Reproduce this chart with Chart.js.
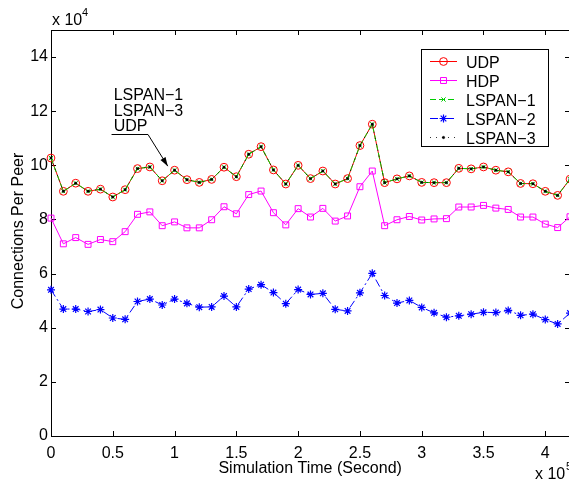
<!DOCTYPE html>
<html><head><meta charset="utf-8">
<script src="https://cdn.jsdelivr.net/npm/chart.js@4/dist/chart.umd.min.js"></script>
<style>
html,body{margin:0;padding:0;background:#fff;overflow:hidden;}
#wrap{width:569px;height:482px;overflow:hidden;position:relative;background:#fff;}
canvas{display:block;}
</style></head><body>
<div id="wrap"><canvas id="c" width="592" height="482" style="width:592px;height:482px"></canvas></div>
<script>
// x in units of 10^5 s, y in units of 10^4 connections
const timeX = [0,0.1,0.2,0.3,0.4,0.5,0.6,0.7,0.8,0.9,1.0,1.1,1.2,1.3,1.4,1.5,1.6,1.7,1.8,1.9,2.0,2.1,2.2,2.3,2.4,2.5,2.6,2.7,2.8,2.9,3.0,3.1,3.2,3.3,3.4,3.5,3.6,3.7,3.8,3.9,4.0,4.1,4.2];
const udp = [10.27,9.04,9.34,9.04,9.12,8.83,9.10,9.88,9.94,9.43,9.82,9.47,9.37,9.48,9.93,9.58,10.41,10.69,9.83,9.31,10.00,9.51,9.79,9.31,9.51,10.73,11.52,9.36,9.50,9.61,9.37,9.36,9.36,9.89,9.87,9.94,9.82,9.76,9.33,9.32,9.04,8.89,9.49];
const hdp = [8.05,7.10,7.33,7.08,7.26,7.18,7.55,8.19,8.28,7.77,7.91,7.69,7.69,7.99,8.47,8.21,8.92,9.05,8.25,7.80,8.40,8.09,8.41,7.94,8.13,9.21,9.79,7.77,7.99,8.11,7.98,8.02,8.03,8.46,8.46,8.52,8.42,8.37,8.09,8.09,7.83,7.70,8.10];
const lspan1 = [10.27,9.04,9.34,9.04,9.12,8.83,9.10,9.88,9.94,9.43,9.82,9.47,9.37,9.48,9.93,9.58,10.41,10.69,9.83,9.31,10.00,9.51,9.79,9.31,9.51,10.73,11.52,9.36,9.50,9.61,9.37,9.36,9.36,9.89,9.87,9.94,9.82,9.76,9.33,9.32,9.04,8.89,9.49];
const lspan2 = [5.40,4.69,4.69,4.60,4.67,4.36,4.31,4.97,5.06,4.84,5.06,4.90,4.76,4.77,5.17,4.77,5.43,5.59,5.30,4.89,5.41,5.23,5.27,4.68,4.62,5.29,6.01,5.19,4.91,5.01,4.75,4.55,4.39,4.44,4.50,4.57,4.56,4.64,4.46,4.50,4.30,4.14,4.54];
const lspan3 = [10.27,9.04,9.34,9.04,9.12,8.83,9.10,9.88,9.94,9.43,9.82,9.47,9.37,9.48,9.93,9.58,10.41,10.69,9.83,9.31,10.00,9.51,9.79,9.31,9.51,10.73,11.52,9.36,9.50,9.61,9.37,9.36,9.36,9.89,9.87,9.94,9.82,9.76,9.33,9.32,9.04,8.89,9.49];
const xTicks = [0,0.5,1,1.5,2,2.5,3,3.5,4];
const yTicks = [0,2,4,6,8,10,12,14];
const seriesNames = ['UDP','HDP','LSPAN\u22121','LSPAN\u22122','LSPAN\u22123'];
const annotationLines = ['LSPAN\u22121','LSPAN\u22123','UDP'];
const xTitle = 'Simulation Time (Second)';
const yTitle = 'Connections Per Peer';

const FONT = '"Liberation Sans", Arial, Helvetica, sans-serif';
const pts = arr => arr.map((v,i)=>({x:timeX[i], y:v}));

const datasets = [
  {label:seriesNames[0], data:pts(udp), borderColor:'#ff0000', backgroundColor:'rgba(0,0,0,0)', borderWidth:1,
   pointStyle:'circle', pointRadius:3.9, pointBorderColor:'#ff0000', pointBorderWidth:1, order:5},
  {label:seriesNames[1], data:pts(hdp), borderColor:'#ff00ff', backgroundColor:'rgba(0,0,0,0)', borderWidth:1,
   pointStyle:'rect', pointRadius:4.2, pointBorderColor:'#ff00ff', pointBorderWidth:1, order:4},
  {label:seriesNames[2], data:pts(lspan1), borderColor:'#00cc00', backgroundColor:'rgba(0,0,0,0)', borderWidth:1, borderDash:[6,3],
   pointStyle:'crossRot', pointRadius:3, pointBorderColor:'#00cc00', pointBorderWidth:1, order:3},
  {label:seriesNames[3], data:pts(lspan2), borderColor:'#0000ff', backgroundColor:'rgba(0,0,0,0)', borderWidth:1, borderDash:[8,3,2,3],
   pointStyle:'star', pointRadius:4, pointBorderColor:'#0000ff', pointBorderWidth:1.2, order:2},
  {label:seriesNames[4], data:pts(lspan3), borderColor:'#000000', backgroundColor:'#000000', borderWidth:0.8, borderDash:[1,5],
   pointStyle:'circle', pointRadius:1.2, pointBorderColor:'#000000', pointBackgroundColor:'#000000', pointBorderWidth:0.5, order:1}
];
datasets.forEach(d=>{d.clip=false; d.tension=0; d.fill=false; d.pointHoverRadius=d.pointRadius; if(!d.pointBackgroundColor) d.pointBackgroundColor='rgba(0,0,0,0)';});

const txt = (ctx, s, x, y, size, align, base) => {
  ctx.font = size+'px '+FONT; ctx.fillStyle='#000'; ctx.textAlign=align||'left'; ctx.textBaseline=base||'alphabetic';
  ctx.fillText(s,x,y);
};

const framePlugin = {
  id:'frame',
  beforeDatasetsDraw(chart){
    const {ctx, chartArea:a, scales:{x,y}} = chart;
    ctx.save();
    ctx.strokeStyle='#000'; ctx.lineWidth=1;
    ctx.strokeRect(Math.round(a.left)+0.5, Math.round(a.top)+0.5, Math.round(a.right-a.left), Math.round(a.bottom-a.top));
    const L=5;
    ctx.beginPath();
    xTicks.forEach(v=>{const px=Math.round(x.getPixelForValue(v))+0.5;
      ctx.moveTo(px,a.bottom); ctx.lineTo(px,a.bottom-L);
      ctx.moveTo(px,a.top); ctx.lineTo(px,a.top+L);});
    yTicks.forEach(v=>{const py=Math.round(y.getPixelForValue(v))+0.5;
      ctx.moveTo(a.left,py); ctx.lineTo(a.left+L,py);
      ctx.moveTo(a.right,py); ctx.lineTo(a.right-L,py);});
    ctx.stroke();
    ctx.restore();
  },
  afterDraw(chart){
    const {ctx, chartArea:a, scales:{x,y}} = chart;
    ctx.save();
    // exponents
    txt(ctx,'x 10',52,25,16); txt(ctx,'4',82,16,11);
    txt(ctx,'x 10',535,479,16); txt(ctx,'5',566,470,11);
    // axis titles
    txt(ctx,xTitle,(a.left+x.getPixelForValue(4.0))/2+12,473,16,'center');
    ctx.save(); ctx.translate(23,231); ctx.rotate(-Math.PI/2); txt(ctx,yTitle,0,0,16,'center'); ctx.restore();
    // annotation (in data units)
    const tx = x.getPixelForValue(0.507);
    const b0 = y.getPixelForValue(12.40);
    annotationLines.forEach((s,i)=>txt(ctx,s,tx,b0+i*15.4,16));
    const uy = Math.round(y.getPixelForValue(11.16))+0.5;
    const ex = x.getPixelForValue(0.785), hx = x.getPixelForValue(0.945), hy = y.getPixelForValue(9.97);
    ctx.strokeStyle='#000'; ctx.lineWidth=1;
    ctx.beginPath(); ctx.moveTo(x.getPixelForValue(0.49),uy); ctx.lineTo(ex,uy); ctx.lineTo(hx,hy); ctx.stroke();
    const ang = Math.atan2(hy-uy, hx-ex);
    ctx.fillStyle='#000'; ctx.beginPath();
    ctx.moveTo(hx,hy);
    ctx.lineTo(hx-9*Math.cos(ang)+3*Math.sin(ang), hy-9*Math.sin(ang)-3*Math.cos(ang));
    ctx.lineTo(hx-9*Math.cos(ang)-3*Math.sin(ang), hy-9*Math.sin(ang)+3*Math.cos(ang));
    ctx.closePath(); ctx.fill();
    // legend
    const lx0=421, ly0=49, lw=127, lh=97;
    ctx.fillStyle='#fff'; ctx.fillRect(lx0,ly0,lw,lh);
    ctx.strokeStyle='#000'; ctx.lineWidth=1; ctx.strokeRect(lx0+0.5,ly0+0.5,lw,lh);
    datasets.forEach((d,i)=>{
      const cy = Math.round(60.5+i*19)+0.5;
      ctx.save();
      ctx.strokeStyle=d.borderColor; ctx.lineWidth=d.borderWidth; ctx.setLineDash(d.borderDash||[]);
      ctx.beginPath(); ctx.moveTo(430,cy); ctx.lineTo(457,cy); ctx.stroke();
      ctx.setLineDash([]);
      ctx.strokeStyle=d.pointBorderColor; ctx.fillStyle=d.pointBackgroundColor; ctx.lineWidth=d.pointBorderWidth;
      Chart.helpers.drawPoint(ctx,{pointStyle:d.pointStyle, radius:d.pointRadius, borderWidth:d.pointBorderWidth, rotation:0},443.5,cy);
      ctx.restore();
      txt(ctx,d.label,466,cy+6,16);
    });
    ctx.restore();
  }
};

new Chart(document.getElementById('c'), {
  type:'line',
  data:{datasets},
  options:{
    responsive:false, animation:false, devicePixelRatio:1,
    layout:{padding:{left:0, top:30, right:22, bottom:0}},
    plugins:{legend:{display:false}, tooltip:{enabled:false}},
    elements:{line:{borderCapStyle:'butt'}},
    scales:{
      x:{type:'linear', min:0, max:4.2,
        afterBuildTicks:s=>{s.ticks = xTicks.map(v=>({value:v}));},
        afterFit:s=>{s.height=46;},
        grid:{display:false, drawTicks:false}, border:{display:false},
        ticks:{autoSkip:false, maxRotation:0, padding:8, color:'#000', font:{family:FONT, size:16}, callback:v=>String(v)}},
      y:{type:'linear', min:0, max:15,
        afterBuildTicks:s=>{s.ticks = yTicks.map(v=>({value:v}));},
        afterFit:s=>{s.width=51;},
        grid:{display:false, drawTicks:false}, border:{display:false},
        ticks:{padding:3, color:'#000', font:{family:FONT, size:16}, callback:v=>String(v)}}
    }
  },
  plugins:[framePlugin]
});
</script>
</body></html>
